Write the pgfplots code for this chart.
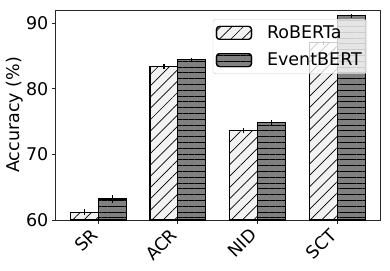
\documentclass[border=0pt]{standalone}
\usepackage{fontspec}
\setmainfont{DejaVu Sans}
\usepackage{pgfplots}
\pgfplotsset{compat=1.18}
\usetikzlibrary{patterns.meta}
\definecolor{robfill}{RGB}{242,242,242}
\definecolor{evfill}{RGB}{128,128,128}
\definecolor{spine}{RGB}{40,40,40}
\begin{document}
\begin{tikzpicture}
\useasboundingbox (-55.5pt,-50pt) rectangle (334.5pt,220pt);
\begin{axis}[
  scale only axis, width=324.5pt, height=210pt,
  at={(0pt,0pt)}, anchor=south west,
  xmin=-0.535, xmax=3.535, ymin=60, ymax=92,
  xtick={0,1,2,3}, xticklabels={SR,ACR,NID,SCT},
  ytick={60,70,80,90},
  xtick pos=bottom, ytick pos=left,
  tick align=outside, major tick length=3.5pt,
  tick style={spine, line width=0.8pt},
  axis line style={spine, line width=0.8pt},
  ticklabel style={font=\fontsize{17.5}{20}\selectfont},
  /pgf/number format/assume math mode=true,
  xticklabel style={inner sep=0pt, xshift=-8.5pt, yshift=-3.5pt, rotate=45, anchor=north east},
  yticklabel style={inner sep=0pt, xshift=-3.5pt},
  ylabel={Accuracy (\%)},
  ylabel style={font=\fontsize{17.5}{20}\selectfont, at={(axis description cs:-0.125,0.5)}, anchor=center, inner sep=0pt},
  ybar, bar width=0.35,
  legend style={at={(axis description cs:0.96,0.957)}, anchor=north east,
    fill=white, fill opacity=0.8, text opacity=1, draw=black!20, draw opacity=1,
    rounded corners=3pt, font=\fontsize{17.5}{20}\selectfont,
    inner xsep=3pt, inner ysep=4.5pt, row sep=9pt, column sep=13pt,
    nodes={inner sep=2pt}},
  legend cell align=left,
  legend image code/.code={\draw[#1, fill opacity=1] (0pt,-6.5pt) rectangle (35pt,6.5pt);},
]
\addplot[bar shift=-0.175, draw=black, line width=1.1pt, fill=robfill,
  postaction={pattern={Lines[angle=45,distance=8pt,line width=0.7pt]}, pattern color=black},
  error bars/.cd, y dir=both, y explicit, error mark=none,
  error bar style={black, line width=1.2pt}]
  coordinates {(0,61.2) +- (0,0.45) (1,83.4) +- (0,0.4) (2,73.6) +- (0,0.4) (3,87.0) +- (0,0.3)};
\addlegendentry{RoBERTa}
\addplot[bar shift=0.175, draw=black, line width=1.1pt, fill=evfill,
  postaction={pattern={Lines[angle=0,distance=5.8pt,line width=0.7pt]}, pattern color=black},
  error bars/.cd, y dir=both, y explicit, error mark=none,
  error bar style={black, line width=1.2pt}]
  coordinates {(0,63.2) +- (0,0.55) (1,84.4) +- (0,0.3) (2,74.9) +- (0,0.35) (3,91.1) +- (0,0.3)};
\addlegendentry{EventBERT}
\end{axis}
\end{tikzpicture}
\end{document}
